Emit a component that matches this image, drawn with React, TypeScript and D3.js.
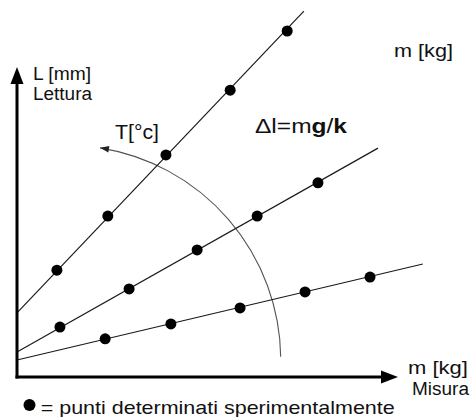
import React from "react";
import * as d3 from "d3";

// ---- data (m [kg] on x, L [mm] on y, arbitrary units) ----
const seriesNames = ["T1", "T2", "T3"];
const xs1 = [1.05, 2.39, 3.92, 5.61, 7.11];
const ys1 = [2.8, 4.22, 5.82, 7.52, 9.07];
const xs2 = [1.13, 2.95, 4.74, 6.32, 7.92];
const ys2 = [1.31, 2.31, 3.33, 4.22, 5.09];
const xs3 = [2.32, 4.05, 5.87, 7.58, 9.29];
const ys3 = [1.0, 1.39, 1.81, 2.23, 2.62];
// fitted lines: intercept, slope, last x
const intercepts = [1.68, 0.655, 0.446];
const slopes = [1.048, 0.5626, 0.2355];
const xEnds = [7.55, 9.5, 10.68];
// temperature arc (data units for centre, x-units for radius)
const arcCenter = [1.29, 0.45];
const arcRadius = 5.65;

const W = 470;
const H = 417;

export default function App() {
  const x = d3.scaleLinear().domain([0, 10]).range([17, 397]);
  const y = d3.scaleLinear().domain([0, 8.1]).range([377, 68]);

  const pts = [
    xs1.map((v, i) => [v, ys1[i]]),
    xs2.map((v, i) => [v, ys2[i]]),
    xs3.map((v, i) => [v, ys3[i]]),
  ];

  const line = d3
    .line<number[]>()
    .x((d) => x(d[0]))
    .y((d) => y(d[1]));

  const fitLines = seriesNames.map((_, i) => [
    [0, intercepts[i]],
    [xEnds[i], intercepts[i] + slopes[i] * xEnds[i]],
  ]);

  // arc
  const cx = x(arcCenter[0]);
  const cy = y(arcCenter[1]);
  const r = x(arcRadius) - x(0);
  const a0 = -0.014;
  const a1 = -1.412;
  const p = d3.path();
  p.arc(cx, cy, r, a0, a1, true);
  const ax = cx + r * Math.cos(a1);
  const ay = cy + r * Math.sin(a1);
  const tx = Math.sin(a1);
  const ty = -Math.cos(a1);
  const nx = -ty;
  const ny = tx;
  const aLen = 9;
  const aHalf = 3.2;
  const arrowHead = `M${ax},${ay}L${ax - tx * aLen + nx * aHalf},${ay - ty * aLen + ny * aHalf}L${ax - tx * aLen - nx * aHalf},${ay - ty * aLen - ny * aHalf}Z`;

  const font = "'Liberation Sans', Arial, Helvetica, sans-serif";
  const x0 = x(0);
  const y0 = y(0);

  return (
    <svg
      width={W}
      height={H}
      style={{ position: "absolute", left: 0, top: 0, background: "#fff" }}
      fontFamily={font}
    >
      {/* arc */}
      <path d={p.toString()} fill="none" stroke="#555" strokeWidth={1.1} />
      <path d={arrowHead} fill="#222" />

      {/* fitted lines */}
      {fitLines.map((l, i) => (
        <path key={i} d={line(l) || ""} fill="none" stroke="#1a1a1a" strokeWidth={1.2} />
      ))}

      {/* points */}
      {pts.map((s, i) =>
        s.map((d, j) => (
          <circle key={`${i}-${j}`} cx={x(d[0])} cy={y(d[1])} r={5.5} fill="#000" />
        ))
      )}

      {/* axes */}
      <line x1={x0} y1={y0 + 1.5} x2={x0} y2={82} stroke="#000" strokeWidth={3} />
      <path d={`M${x0},67L${x0 - 6.5},84L${x0 + 6.5},84Z`} fill="#000" />
      <line x1={x0 - 1.5} y1={y0} x2={382} y2={y0} stroke="#000" strokeWidth={3} />
      <path d={`M398,${y0}L381,${y0 - 6.5}L381,${y0 + 6.5}Z`} fill="#000" />

      {/* texts */}
      <g fill="#111">
        <text x={33} y={80} fontSize={18} textLength={58} lengthAdjust="spacingAndGlyphs">L [mm]</text>
        <text x={33} y={100} fontSize={18} textLength={59} lengthAdjust="spacingAndGlyphs">Lettura</text>
        <text x={115} y={139} fontSize={21} textLength={44} lengthAdjust="spacingAndGlyphs">T[°c]</text>
        <text x={255} y={133} fontSize={19.5} textLength={92} lengthAdjust="spacingAndGlyphs">
          Δl=m<tspan fontWeight="bold">g</tspan>/<tspan fontWeight="bold">k</tspan>
        </text>
        <text x={394} y={57} fontSize={19} textLength={59} lengthAdjust="spacingAndGlyphs">m [kg]</text>
        <text x={408} y={374} fontSize={18} textLength={60} lengthAdjust="spacingAndGlyphs">m [kg]</text>
        <text x={412} y={395} fontSize={18} textLength={57} lengthAdjust="spacingAndGlyphs">Misura</text>
        <circle cx={29.5} cy={405} r={6} fill="#000" />
        <text x={40.7} y={414} fontSize={19} textLength={354} lengthAdjust="spacingAndGlyphs">
          = punti determinati sperimentalmente
        </text>
      </g>
    </svg>
  );
}
